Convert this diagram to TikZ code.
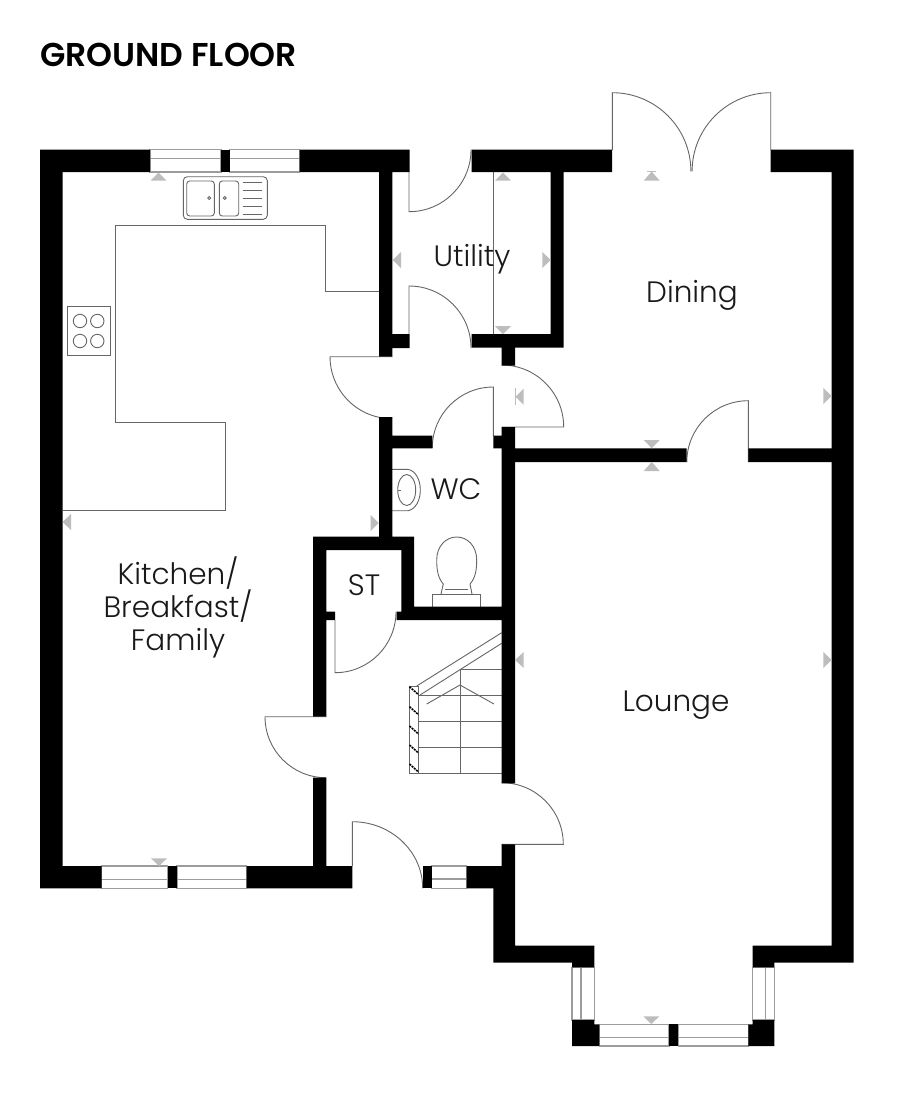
\documentclass[tikz,border=0pt]{standalone}
\usepackage{fontspec}
\setmainfont{Poppins}[UprightFont=* Light,BoldFont=* SemiBold]
\definecolor{thinline}{HTML}{666666}
\definecolor{glassline}{HTML}{9C9C9C}
\definecolor{markgrey}{HTML}{BDBDBD}
\tikzset{
  wall/.style={fill=black,draw=none},
  fitting/.style={draw=thinline,line width=0.9pt},
  door/.style={draw=thinline,line width=0.9pt},
  glass/.style={draw=glassline,line width=1.1pt},
  pointer/.style={fill=markgrey,draw=none},
  room/.style={font=\fontsize{29.5}{32.5}\selectfont,align=center,text=black!90},
}
\begin{document}
\begin{tikzpicture}[x=1pt,y=-1pt]
\useasboundingbox (0,0) rectangle (900,1093);
\fill[white] (0,0) rectangle (900,1093);
\node[font=\bfseries\fontsize{33}{38}\selectfont,anchor=base west,inner sep=0pt] (title) at (40,66) {GROUND FLOOR};
% worktops
\draw[fitting] (62.5,510)--(225,510)--(225,422.3)--(115.3,422.3)--(115.3,225)--(325.7,225)--(325.7,291)--(379,291);
% sink
\draw[fitting,rounded corners=4pt] (183.3,176.7) rectangle (267.3,219.3);
\draw[fitting,rounded corners=3pt] (186.7,181) rectangle (214.3,216);
\draw[fitting,rounded corners=3pt] (219.3,181) rectangle (238.7,216);
\foreach \yy in {182.7,190.3,198.3,206.7,214.7}
  \draw[fitting] (243.3,\yy)--(262,\yy);
\draw[fitting] (209.3,198) circle (1.5);
\draw[fitting] (224.7,198) circle (1.5);
% hob
\draw[fitting] (67.3,306.7) rectangle (110.7,355.3);
\foreach \xx in {80,97.3}
  \foreach \yy in {321,341}
    \draw[fitting] (\xx,\yy) circle (6.7);
% utility line
\draw[fitting] (493.3,172)--(493.3,334);
% basin
\draw[fitting] (392,469.3)--(408,469.3) .. controls (416,471) and (420.3,480) .. (420.3,490) .. controls (420.3,500) and (416,509) .. (408,510.7)--(392,510.7);
\draw[fitting] (406.7,490) ellipse (9 and 15.5);
\draw[fitting] (397.7,490)--(401,490);
% toilet
\draw[fitting] (432.7,606.7)--(432.7,594)--(480,594)--(480,606.7);
\draw[fitting] (441,594)--(443.3,584) .. controls (438,578) and (436.7,570) .. (436.7,560) .. controls (436.7,546) and (446,537) .. (456.7,537) .. controls (467.4,537) and (476.7,546) .. (476.7,560) .. controls (476.7,570) and (475.4,578) .. (470,584)--(472,594);
\draw[fitting] (445,589)--(468,589);
% stairs
\draw[fitting] (409.3,773.3)--(409.3,686)--(418.3,686)--(418.3,773.3);
\foreach \yy in {695,721,747.3,773.3}
  \draw[fitting] (418.3,\yy)--(501.7,\yy);
\draw[fitting] (409.3,773.3)--(418.3,773.3);
\draw[fitting] (460,669)--(501.7,669);
\draw[fitting] (460,669)--(460,773.3);
\draw[fitting] (416.7,686)--(501.7,632.7);
\draw[fitting] (420,695)--(501.7,643.3);
\draw[fitting] (426.7,704)--(460,685)--(494,704);
\foreach \yy in {686.7,706.7,726,745,764}
  \draw[black,line width=1.6pt,dash pattern=on 2pt off 1pt] (409.5,\yy)--(418.5,\yy+8);
% doors
\draw[door] (409,172)--(409,211.7) arc[start angle=90,end angle=0,radius=62];
\draw[door] (409,334)--(409,286) arc[start angle=270,end angle=360,radius=62];
\draw[door] (392.3,356.7)--(330,356.7) arc[start angle=180,end angle=100,radius=62];
\draw[door] (493.3,436)--(493.3,387) arc[start angle=270,end angle=180,radius=61];
\draw[door] (501.7,427)--(563.7,427) arc[start angle=0,end angle=-90,radius=62];
\draw[door] (748.3,462)--(748.3,400.7) arc[start angle=270,end angle=180,radius=61.5];
\draw[door] (612.3,150)--(612.3,92.7) arc[start angle=270,end angle=360,radius=78.6];
\draw[door] (770.7,150)--(770.7,92.7) arc[start angle=270,end angle=180,radius=78.6];
\draw[door] (335,620)--(335,672.7) arc[start angle=90,end angle=0,radius=61];
\draw[door] (326.3,716.7)--(265,716.7) arc[start angle=180,end angle=90,radius=61];
\draw[door] (352.3,866)--(352.3,821.7) arc[start angle=270,end angle=360,x radius=70.4,y radius=66.6];
\draw[door] (501.7,844.3)--(563.3,844.3) arc[start angle=0,end angle=-90,radius=61.6];
% windows
\foreach \xa/\xb/\ya/\yb/\ym in {150/221/149.5/172/158.7,229.5/299.5/149.5/172/158.7,101.7/167.7/866/888.3/879.3,177/246.7/866/888.3/879.3,431.7/466.7/866/888.3/879,599.3/669/1024.3/1046/1037.3,678.3/748.3/1024.3/1046/1037.3}{
  \draw[glass] (\xa,\ya) rectangle (\xb,\yb);
  \draw[glass] (\xa,\ym)--(\xb,\ym);
}
\foreach \xa/\xb/\xm in {572/594.3/581,752.7/774.3/765.7}{
  \draw[glass] (\xa,967.3) rectangle (\xb,1020);
  \draw[glass] (\xm,967.3)--(\xm,1020);
}
% walls
\fill[wall] (150,149.5)--(40,149.5)--(40,888.3)--(101.7,888.3)--(101.7,866)--(62.5,866)--(62.5,172)--(150,172)--cycle;
\fill[wall] (221,149.5) rectangle (229.5,172);
\fill[wall] (299.5,149.5)--(409.5,149.5)--(409.5,172)--(392.3,172)--(392.3,334)--(409.5,334)--(409.5,348)--(392.3,348)--(392.3,356.7)--(379,356.7)--(379,172)--(299.5,172)--cycle;
\fill[wall] (471.7,149.5)--(612,149.5)--(612,172)--(563.7,172)--(563.7,347.7)--(515,347.7)--(515,365.7)--(501.7,365.7)--(501.7,347.7)--(471.7,347.7)--(471.7,334)--(550.7,334)--(550.7,172)--(471.7,172)--cycle;
\fill[wall] (770.5,149.5)--(853.5,149.5)--(853.5,962.7)--(774.3,962.7)--(774.3,967.3)--(752.7,967.3)--(752.7,945.7)--(831.7,945.7)--(831.7,462)--(748.3,462)--(748.3,448.3)--(831.7,448.3)--(831.7,172)--(770.5,172)--cycle;
\fill[wall] (501.7,427)--(515,427)--(515,448.3)--(686.7,448.3)--(686.7,462)--(515,462)--(515,783.3)--(501.7,783.3)--(501.7,620)--(396.7,620)--(396.7,611.7)--(401.3,611.7)--(401.3,550)--(326.3,550)--(326.3,611.7)--(335,611.7)--(335,620)--(326.3,620)--(326.3,716.7)--(313,716.7)--(313,536.7)--(379,536.7)--(379,417)--(392.3,417)--(392.3,435.7)--(432.3,435.7)--(432.3,448.3)--(392.3,448.3)--(392.3,536.7)--(414,536.7)--(414,606.7)--(501.7,606.7)--(501.7,448.3)--(493.3,448.3)--(493.3,435.7)--(501.7,435.7)--cycle;
\fill[wall] (246.7,866)--(313,866)--(313,777.7)--(326.3,777.7)--(326.3,866)--(352.3,866)--(352.3,888.3)--(246.7,888.3)--cycle;
\fill[wall] (167.7,866) rectangle (177,888.3);
\fill[wall] (422.7,866) rectangle (431.7,888.3);
\fill[wall] (466.7,866)--(501.7,866)--(501.7,844.3)--(515,844.3)--(515,945.7)--(594.3,945.7)--(594.3,967.3)--(572,967.3)--(572,962.7)--(493.3,962.7)--(493.3,888.3)--(466.7,888.3)--cycle;
\fill[wall] (572,1020)--(594.3,1020)--(594.3,1024.3)--(599.3,1024.3)--(599.3,1046)--(572,1046)--cycle;
\fill[wall] (752.7,1020)--(774.3,1020)--(774.3,1046)--(748.3,1046)--(748.3,1024.3)--(752.7,1024.3)--cycle;
\fill[wall] (669,1024.3) rectangle (678.3,1046);
% pointers up and down
\foreach \xx/\ya/\yb in {158.5/172.5/180.5,503/172.5/180.7,651.7/171.5/180.7,651.7/462/471,159/866/858.3,503/334/326,651.7/448.3/440,651.3/1024/1016.3}
  \fill[pointer] (\xx,\ya)--(\xx-8,\yb)--(\xx+8,\yb)--cycle;
% pointers left and right
\foreach \yy/\xa/\xb in {522/62.5/71,523/378.7/370.7,260/392.7/401,260/550.7/542.3,396.7/515.5/523.7,396/831.7/823.3,660/515/523.7,660/831.7/823.3}
  \fill[pointer] (\xa,\yy)--(\xb,\yy-8)--(\xb,\yy+8)--cycle;
\draw[markgrey,line width=1pt] (647,171.5)--(656.4,171.5);
\draw[markgrey,line width=1pt] (515,388)--(515,405);
% labels
\node[room] (utility) at (472,259) {Utility};
\node[room] (dining) at (692,295) {Dining};
\node[room] (wc) at (456,489) {WC};
\node[room] (st) at (364,585) {ST};
\node[room] (lounge) at (676,705) {Lounge};
\node[room] (kitchen) at (178,607) {Kitchen/\\Breakfast/\\Family};
\end{tikzpicture}
\end{document}
